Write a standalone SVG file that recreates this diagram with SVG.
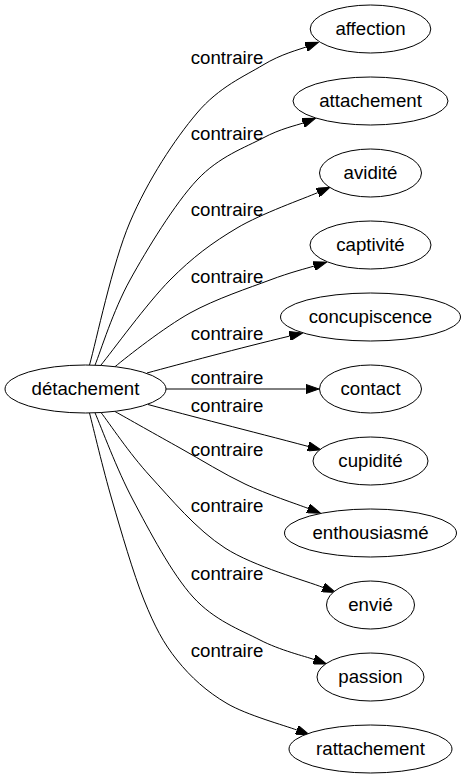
<svg xmlns="http://www.w3.org/2000/svg" width="466" height="779" viewBox="0 0 466 779">
<style>
  text { font-family: "Liberation Sans", Arial, sans-serif; font-size: 18.67px; fill: #000; text-anchor: middle; }
  .node ellipse { fill: #fff; stroke: #000; stroke-width: 1; }
  .edge path { fill: none; stroke: #000; stroke-width: 1; marker-end: url(#arrow); }
</style>
<defs>
  <marker id="arrow" viewBox="0 -4.67 13.33 9.33" refX="0" refY="0" markerUnits="userSpaceOnUse" markerWidth="13.33" markerHeight="9.33" orient="auto">
    <path d="M0,-4.67 L13.33,0 L0,4.67 Z" fill="#000" stroke="#000" stroke-width="1"/>
  </marker>
</defs>
<rect width="466" height="779" fill="#fff"/>
<g id="connectors">
  <g class="edge" id="e-affection">
    <path d="M89.5,365 C96.25,341.2 112.1,264 130,222 C147.9,180 174.8,139.2 197,113 C219.2,86.8 244.75,76.1 263,65 C281.25,53.9 299.25,49.6 306,47"/>
    <text x="227" y="64">contraire</text>
  </g>
  <g class="edge" id="e-attachement">
    <path d="M95,365.2 C100.8,350.8 113,310.8 130,280 C147,249.2 174.8,203.7 197,180 C219.2,156.3 245.3,147.5 263,138 C280.7,128.5 296.3,125.5 303,123"/>
    <text x="227" y="140">contraire</text>
  </g>
  <g class="edge" id="e-avidite">
    <path d="M100.7,365.4 C112.3,351.2 147.3,302.9 170,280 C192.7,257.1 212.4,242.6 237,228 C261.6,213.4 304.25,198.5 317.7,192.6"/>
    <text x="227" y="216">contraire</text>
  </g>
  <g class="edge" id="e-captivite">
    <path d="M115,366.7 C127.5,356.3 164.2,327.45 190,313 C215.8,298.8 249.35,287.8 270,280 C290.65,272.2 306.6,268.4 313.9,266.1"/>
    <text x="227" y="283">contraire</text>
  </g>
  <g class="edge" id="e-concupiscence">
    <path d="M147,373 C180,364 240,348 289.6,336.1"/>
    <text x="227" y="340">contraire</text>
  </g>
  <g class="edge" id="e-contact">
    <path d="M166,389 L305.7,389"/>
    <text x="227" y="384">contraire</text>
  </g>
  <g class="edge" id="e-cupidite">
    <path d="M148,404.5 C190,416 250,431 308.1,446.4"/>
    <text x="227" y="412">contraire</text>
  </g>
  <g class="edge" id="e-enthousiasme">
    <path d="M115,411.5 C125.8,417.6 158.3,435.9 180,448 C201.7,460.1 223.65,473.9 245,484 C266.35,494.1 297.6,504.3 308.1,508.4"/>
    <text x="227" y="456">contraire</text>
  </g>
  <g class="edge" id="e-envie">
    <path d="M101,412.5 C109.2,423.1 129.3,453.4 150,476 C170.7,498.6 196.15,529.4 225,548 C253.85,566.6 306.75,580.9 323.1,587.5"/>
    <text x="227" y="512">contraire</text>
  </g>
  <g class="edge" id="e-passion">
    <path d="M95,412.8 C101.3,427.3 116.7,469.3 133,500 C149.3,530.7 171.8,573.7 193,597 C214.2,620.3 239.8,629.6 260,640 C280.2,650.4 305,656.25 314,659.5"/>
    <text x="227" y="580">contraire</text>
  </g>
  <g class="edge" id="e-rattachement">
    <path d="M89.5,413 C93.25,427.5 102.9,468.8 112,500 C121.1,531.2 133.2,573.3 144,600 C154.8,626.7 163.2,642.75 177,660 C190.8,677.25 207,691.8 227,703.5 C247,715.2 285.2,725.6 296.8,730"/>
    <text x="227" y="657">contraire</text>
  </g>
</g>
<g class="node" id="n-detachement"><ellipse cx="85.5" cy="389" rx="80.5" ry="24"/><text x="85.5" y="395">détachement</text></g>
<g class="node" id="n-affection"><ellipse cx="370.5" cy="29" rx="60.3" ry="24"/><text x="370.5" y="35">affection</text></g>
<g class="node" id="n-attachement"><ellipse cx="370.5" cy="101" rx="77.5" ry="24"/><text x="370.5" y="107">attachement</text></g>
<g class="node" id="n-avidite"><ellipse cx="370.5" cy="173" rx="51" ry="24"/><text x="370.5" y="179">avidité</text></g>
<g class="node" id="n-captivite"><ellipse cx="370.5" cy="245" rx="60.5" ry="24"/><text x="370.5" y="251">captivité</text></g>
<g class="node" id="n-concupiscence"><ellipse cx="370.5" cy="317" rx="90" ry="24"/><text x="370.5" y="323">concupiscence</text></g>
<g class="node" id="n-contact"><ellipse cx="370.5" cy="389" rx="51" ry="24"/><text x="370.5" y="395">contact</text></g>
<g class="node" id="n-cupidite"><ellipse cx="370.5" cy="461" rx="57.5" ry="24"/><text x="370.5" y="467">cupidité</text></g>
<g class="node" id="n-enthousiasme"><ellipse cx="370.5" cy="533" rx="86" ry="24"/><text x="370.5" y="539">enthousiasmé</text></g>
<g class="node" id="n-envie"><ellipse cx="370.5" cy="605" rx="44" ry="24"/><text x="370.5" y="611">envié</text></g>
<g class="node" id="n-passion"><ellipse cx="370.5" cy="677" rx="53.5" ry="24"/><text x="370.5" y="683">passion</text></g>
<g class="node" id="n-rattachement"><ellipse cx="370.5" cy="749" rx="81.5" ry="24"/><text x="370.5" y="755">rattachement</text></g>
</svg>
